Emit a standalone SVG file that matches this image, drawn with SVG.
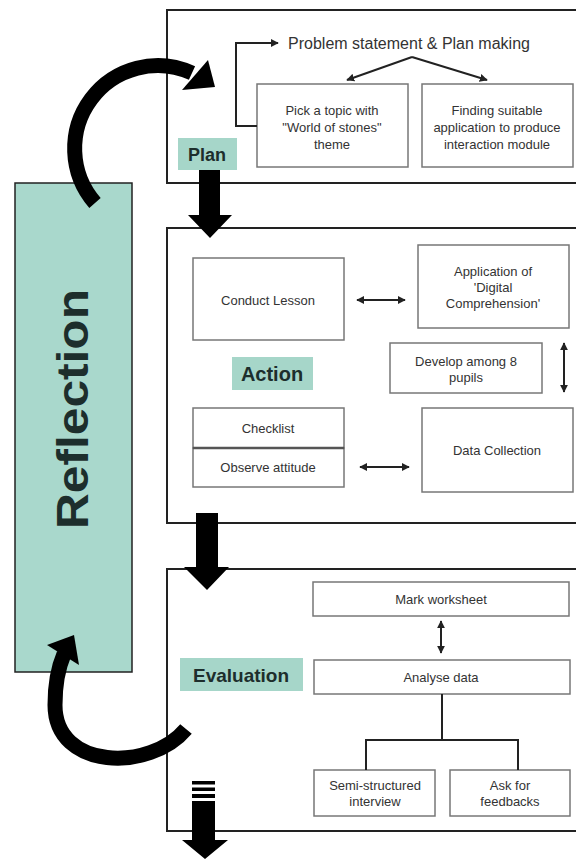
<svg xmlns="http://www.w3.org/2000/svg" width="576" height="860" viewBox="0 0 576 860">
<defs>
<style>
.outer{fill:#fff;stroke:#222;stroke-width:2}
.box{fill:#fff;stroke:#777;stroke-width:1.5}
.t{font-family:"Liberation Sans",Arial,sans-serif;font-size:13px;fill:#333;text-anchor:middle}
.lbl{fill:#a6d6c9}
.lt{font-family:"Liberation Sans",Arial,sans-serif;font-weight:bold;fill:#1d2e2c;text-anchor:middle}
.ln{fill:none;stroke:#222;stroke-width:2}
.big{fill:#000}
.band{fill:none;stroke:#000;stroke-width:15}
</style>
<marker id="ah" viewBox="0 0 10 10" refX="9" refY="5" markerWidth="4" markerHeight="4" orient="auto-start-reverse"><path d="M0,0L10,5L0,10z" fill="#222"/></marker>
</defs>
<rect width="576" height="860" fill="#fff"/>

<g id="plan-box"><rect class="outer" x="167" y="10" width="415" height="173"/></g>
<g id="action-box"><rect class="outer" x="167" y="228" width="415" height="295"/></g>
<g id="evaluation-box"><rect class="outer" x="167" y="569" width="415" height="262"/></g>

<g id="reflection">
<rect x="15" y="183" width="117" height="489" fill="#a9d8cc" stroke="#222" stroke-width="1.5"/>
<text class="lt" transform="translate(88,409) rotate(-90)" font-size="44" textLength="240" lengthAdjust="spacingAndGlyphs" fill="#000">Reflection</text>
</g>

<g id="problem-statement"><text class="t" x="409" y="49" style="font-size:16px">Problem statement &amp; Plan making</text></g>
<g id="pick-topic"><rect class="box" x="257" y="84" width="151" height="83"/>
<text class="t" x="332" y="115">Pick a topic with</text><text class="t" x="332" y="132">"World of stones"</text><text class="t" x="332" y="149">theme</text></g>
<g id="finding-app"><rect class="box" x="422" y="84" width="151" height="83"/>
<text class="t" x="497" y="115">Finding suitable</text><text class="t" x="497" y="132">application to produce</text><text class="t" x="497" y="149">interaction module</text></g>
<g id="plan-label"><rect class="lbl" x="178" y="138" width="59" height="32"/><text class="lt" x="207" y="161" font-size="18">Plan</text></g>

<g id="conduct-lesson"><rect class="box" x="193" y="258" width="151" height="82"/><text class="t" x="268" y="305">Conduct Lesson</text></g>
<g id="application"><rect class="box" x="418" y="245" width="151" height="83"/>
<text class="t" x="493" y="276">Application of</text><text class="t" x="493" y="292">'Digital</text><text class="t" x="493" y="308">Comprehension'</text></g>
<g id="develop"><rect class="box" x="390" y="343" width="152" height="50"/>
<text class="t" x="466" y="366">Develop among 8</text><text class="t" x="466" y="382">pupils</text></g>
<g id="action-label"><rect class="lbl" x="232" y="357" width="81" height="33"/><text class="lt" x="272" y="381" font-size="20">Action</text></g>
<g id="checklist"><rect class="box" x="193" y="408" width="151" height="40"/><text class="t" x="268" y="433">Checklist</text></g>
<g id="observe"><rect class="box" x="193" y="448" width="151" height="39"/><line x1="193" y1="448" x2="344" y2="448" stroke="#555" stroke-width="2.5"/><text class="t" x="268" y="472">Observe attitude</text></g>
<g id="data-collection"><rect class="box" x="422" y="408" width="151" height="84"/><text class="t" x="497" y="455">Data Collection</text></g>

<g id="mark-worksheet"><rect class="box" x="313" y="582" width="256" height="34"/><text class="t" x="441" y="604">Mark worksheet</text></g>
<g id="analyse-data"><rect class="box" x="314" y="660" width="256" height="34"/><text class="t" x="441" y="682">Analyse data</text></g>
<g id="evaluation-label"><rect class="lbl" x="180" y="658" width="123" height="33"/><text class="lt" x="241" y="682" font-size="19">Evaluation</text></g>
<g id="semi-structured"><rect class="box" x="314" y="770" width="121" height="46"/>
<text class="t" x="375" y="790">Semi-structured</text><text class="t" x="375" y="806">interview</text></g>
<g id="ask-feedback"><rect class="box" x="450" y="770" width="120" height="46"/>
<text class="t" x="510" y="790">Ask for</text><text class="t" x="510" y="806">feedbacks</text></g>

<g id="connectors">
<path class="ln" d="M257,126 H236 V43 H278" marker-end="url(#ah)"/>
<path class="ln" d="M412,57 L347,80" marker-end="url(#ah)"/>
<path class="ln" d="M412,57 L487,80" marker-end="url(#ah)"/>
<line class="ln" x1="357" y1="300" x2="405" y2="300" marker-start="url(#ah)" marker-end="url(#ah)"/>
<line class="ln" x1="564" y1="343" x2="564" y2="392" marker-start="url(#ah)" marker-end="url(#ah)"/>
<line class="ln" x1="360" y1="467" x2="409" y2="467" marker-start="url(#ah)" marker-end="url(#ah)"/>
<line class="ln" x1="441" y1="621" x2="441" y2="653" marker-start="url(#ah)" marker-end="url(#ah)"/>
<path class="ln" d="M442,694 V740 M366,770 V740 H518 V770"/>
<polygon class="big" points="199,170 220,170 220,215 232,215 210,238 188,215 199,215"/>
<polygon class="big" points="196,513 218,513 218,567 229,567 207,590 184,567 196,567"/>
<rect class="big" x="192" y="781" width="23" height="3.5"/>
<rect class="big" x="192" y="787.5" width="23" height="3.5"/>
<rect class="big" x="192" y="794" width="23" height="4"/>
<polygon class="big" points="192,801 215,801 215,840 228,840 205,859 182,840 192,840"/>
<path class="band" d="M95,203 A83,83 0 0,1 192,73"/>
<polygon class="big" points="208,60 215,87 182,90"/>
<path class="band" d="M186,729 C150,772 55,770 55,705 C55,685 58,668 64,654"/>
<polygon class="big" points="47,645 74,635 79,665"/>
</g>
</svg>
